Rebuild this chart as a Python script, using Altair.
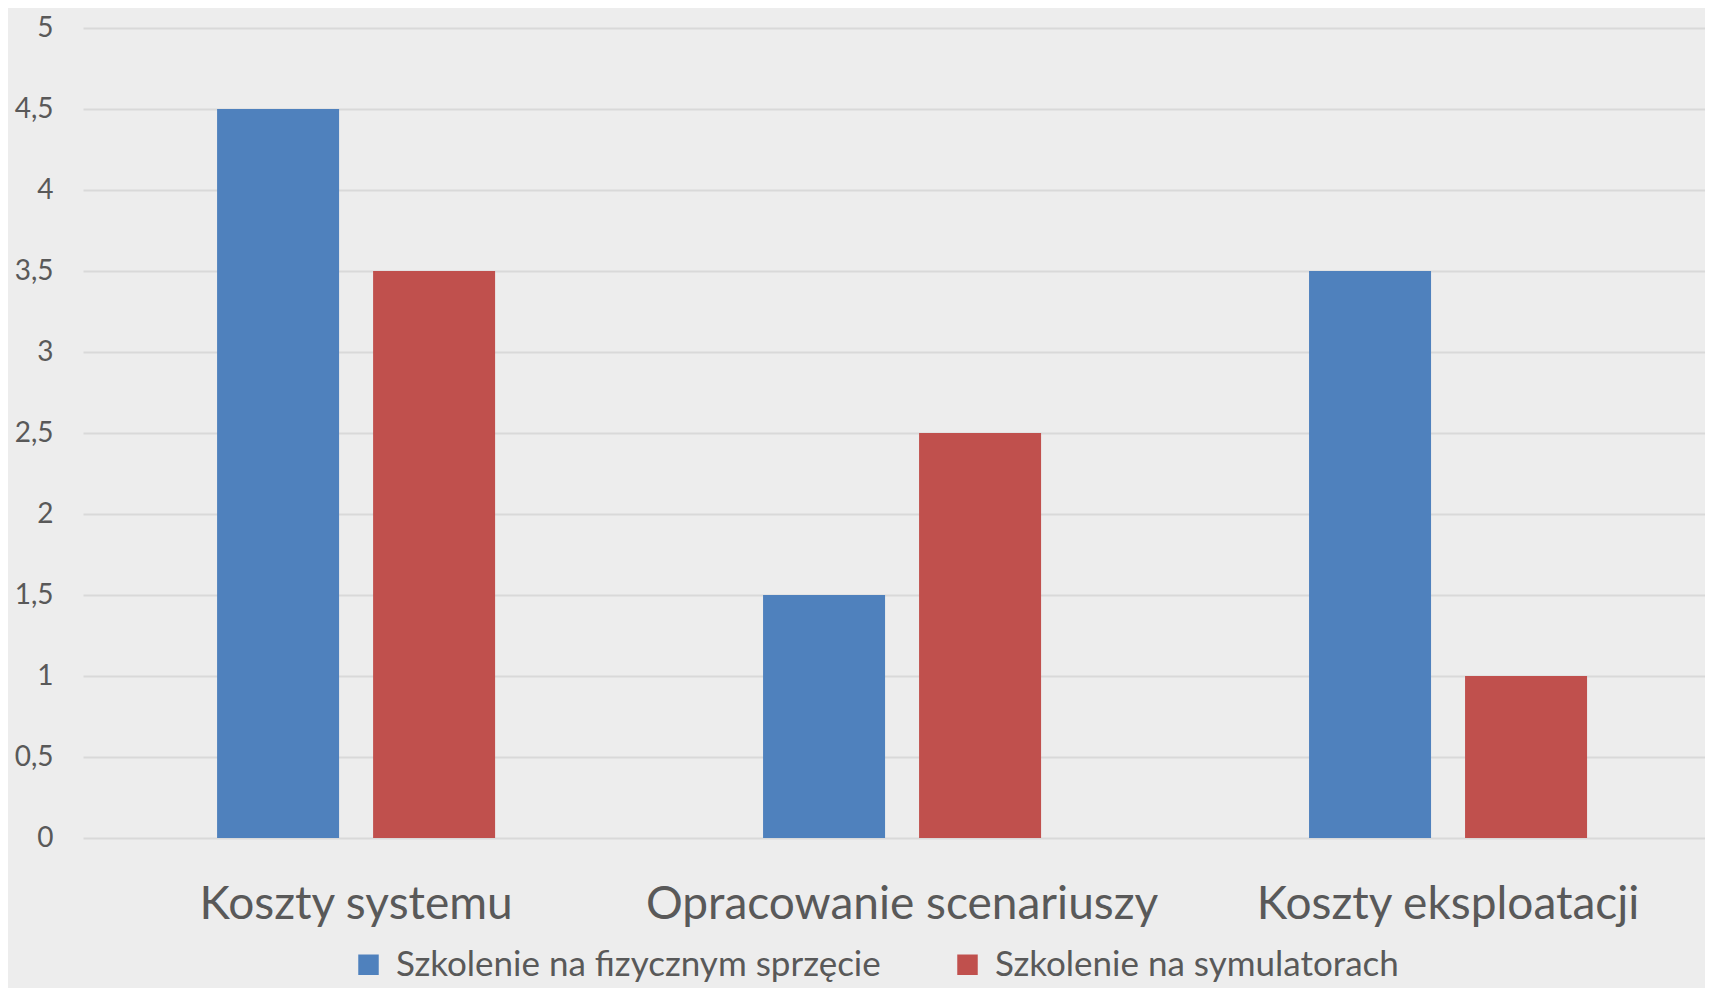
import altair as alt
import pandas as pd

categories = ["Koszty systemu", "Opracowanie scenariuszy", "Koszty eksploatacji"]
series_names = ["Szkolenie na fizycznym sprzęcie", "Szkolenie na symulatorach"]
fizyczny = [4.5, 1.5, 3.5]
symulatory = [3.5, 2.5, 1.0]
y_ticks = [0, 0.5, 1, 1.5, 2, 2.5, 3, 3.5, 4, 4.5, 5]
colors = ["#4F81BD", "#C0504D"]

rows = []
for c, a, b in zip(categories, fizyczny, symulatory):
    rows.append({"kategoria": c, "seria": series_names[0], "wartosc": a})
    rows.append({"kategoria": c, "seria": series_names[1], "wartosc": b})
df = pd.DataFrame(rows)

FONT = "Lato"
TXT = "#595959"

chart = alt.Chart(df).mark_bar().encode(
    x=alt.X("kategoria:N", sort=categories,
            scale=alt.Scale(paddingInner=0.4908, paddingOuter=0.2308, align=0.532),
            axis=alt.Axis(title=None, labelAngle=0, ticks=False, domain=False,
                          labelFontSize=46, labelFont=FONT, labelColor=TXT,
                          labelBaseline="alphabetic", labelPadding=80, labelLimit=0)),
    xOffset=alt.XOffset("seria:N", sort=series_names,
                        scale=alt.Scale(paddingInner=0.218, paddingOuter=0)),
    y=alt.Y("wartosc:Q", scale=alt.Scale(domain=[0, 5], nice=False),
            axis=alt.Axis(title=None, values=y_ticks, ticks=False, domain=False,
                          labelExpr="replace(toString(datum.value), '.', ',')",
                          labelFontSize=28, labelFont=FONT, labelColor=TXT,
                          labelPadding=30, gridColor="#D9D9D9", gridWidth=2)),
    color=alt.Color("seria:N", sort=series_names,
                    scale=alt.Scale(domain=series_names, range=colors),
                    legend=alt.Legend(title=None, orient="none", legendX=268, legendY=919,
                                      direction="horizontal", labelFontSize=35, labelFont=FONT,
                                      labelColor=TXT, labelLimit=0, columnPadding=69,
                                      symbolType="square", symbolSize=420,
                                      symbolStrokeWidth=0, symbolOpacity=1, labelOffset=10)),
).properties(
    width=1622, height=810,
    autosize=alt.AutoSizeParams(type="none"),
    padding={"left": 75, "top": 20, "right": 0, "bottom": 150},
    background="#EDEDED",
).configure_view(stroke=None, fill="#EDEDED")

chart.save("out.html", embed_options={"renderer": "svg", "actions": False})
